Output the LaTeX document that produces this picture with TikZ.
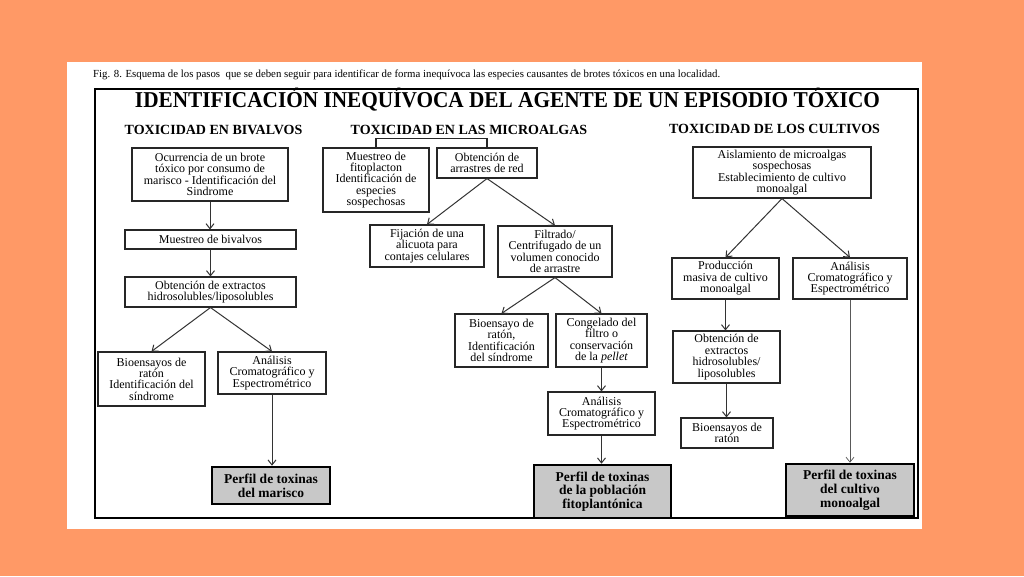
\documentclass[tikz,border=0pt]{standalone}
\usepackage{fontspec}
\setmainfont{Liberation Serif}
\usepackage{graphicx}
\usetikzlibrary{arrows.meta}
\definecolor{bgorange}{RGB}{255,153,102}
\definecolor{perfilgray}{RGB}{200,200,200}
\begin{document}
\begin{tikzpicture}[x=1pt,y=-1pt,
  box/.style={draw=black!85, line width=1.1pt, fill=white, align=center, inner sep=0pt,
    font=\fontsize{12}{11.4}\selectfont},
  perfil/.style={draw=black, line width=2.6pt, fill=perfilgray, align=center, inner sep=0pt,
    font=\bfseries\fontsize{13.5}{13.8}\selectfont},
  arr/.style={draw=black!80, line width=1pt, -{Straight Barb[length=5pt,width=8pt]}},
  thinarr/.style={draw=black!65, line width=0.7pt, -{Straight Barb[length=5pt,width=8pt]}},
  head/.style={font=\bfseries\fontsize{14}{14}\selectfont, inner sep=0pt}
]
\useasboundingbox (0,0) rectangle (1024,576);
\fill[bgorange] (0,0) rectangle (1024,576);
\fill[white] (67,62) rectangle (922,529);
\draw[line width=1.8pt] (95,89) rectangle (918,518);

% caption and title
\node[anchor=base west, inner sep=0pt] (cap) at (93,77.5)
  {\resizebox{627pt}{!}{\fontsize{9}{10}\selectfont Fig. 8. Esquema de los pasos\ \ que se deben seguir para identificar de forma inequívoca las especies causantes de brotes tóxicos en una localidad.}};
\node[anchor=base, inner sep=0pt] (title) at (507.5,107)
  {\resizebox{745pt}{15pt}{\fontsize{20}{22}\selectfont\bfseries\raisebox{0pt}[0.662em][0pt]{IDENTIFICACIÓN INEQUÍVOCA DEL AGENTE DE UN EPISODIO TÓXICO}}};

% headers
\node[head] (h1) at (213.5,130) {TOXICIDAD EN BIVALVOS};
\node[head] (h2) at (469,130) {TOXICIDAD EN LAS MICROALGAS};
\node[head] (h3) at (774.5,129) {TOXICIDAD DE LOS CULTIVOS};

% left column
\node[box, minimum width=156, minimum height=53] (B1) at (210,174.5)
  {Ocurrencia de un brote\\tóxico por consumo de\\marisco - Identificación del\\Sindrome};
\node[box, minimum width=171, minimum height=19] (B2) at (210.5,239.5) {Muestreo de bivalvos};
\node[box, minimum width=171, minimum height=30] (B3) at (210.5,292)
  {Obtención de extractos\\hidrosolubles/liposolubles};
\node[box, minimum width=107, minimum height=54] (B4) at (151.5,379)
  {Bioensayos de\\ratón\\Identificación del\\síndrome};
\node[box, minimum width=108, minimum height=42] (B5) at (272,373)
  {Análisis\\Cromatográfico y\\Espectrométrico};
\node[perfil, minimum width=118, minimum height=37] (P1) at (271,485.5)
  {Perfil de toxinas\\del marisco};

\draw[arr] (B1.south) -- (B1.south |- B2.north);
\draw[arr] (B2.south) -- (B2.south |- B3.north);
\draw[arr] (B3.south) -- (B4.north);
\draw[arr] (B3.south) -- (B5.north);
\draw[arr] (B5.south) -- (B5.south |- P1.north);

% middle column
\node[box, minimum width=106, minimum height=64] (M1) at (376,180)
  {Muestreo de\\fitoplacton\\Identificación de\\especies\\sospechosas};
\node[box, minimum width=100, minimum height=30] (M2) at (487,163)
  {Obtención de\\arrastres de red};
\node[box, minimum width=114, minimum height=42] (M3) at (427,246)
  {Fijación de una\\alicuota para\\contajes celulares};
\node[box, minimum width=114, minimum height=51] (M4) at (555,251.5)
  {Filtrado/\\Centrifugado de un\\volumen conocido\\de arrastre};
\node[box, minimum width=93, minimum height=53] (M5) at (501.5,340.5)
  {Bioensayo de\\ratón,\\Identificación\\del síndrome};
\node[box, minimum width=91, minimum height=53] (M6) at (601.5,340.5)
  {Congelado del\\filtro o\\conservación\\de la \textit{pellet}};
\node[box, minimum width=107, minimum height=43] (M7) at (601.5,413.5)
  {Análisis\\Cromatográfico y\\Espectrométrico};
\node[perfil, minimum width=137, minimum height=53] (P2) at (602.5,491.5)
  {Perfil de toxinas\\de la población\\fitoplantónica};

\draw[draw=black!85, line width=1.1pt] (M1.north) -- ++(0,-9) -| (M2.north);
\draw[arr] (M2.south) -- (M3.north);
\draw[arr] (M2.south) -- (M4.north);
\draw[arr] (M4.south) -- (M5.north);
\draw[arr] (M4.south) -- (M6.north);
\draw[arr] (M6.south) -- (M6.south |- M7.north);
\draw[arr] (M7.south) -- (M7.south |- P2.north);

% right column
\node[box, minimum width=178, minimum height=51] (R1) at (782,172.5)
  {Aislamiento de microalgas\\sospechosas\\Establecimiento de cultivo\\monoalgal};
\node[box, minimum width=107, minimum height=41] (R2) at (725.5,278.5)
  {Producción\\masiva de cultivo\\monoalgal};
\node[box, minimum width=114, minimum height=41] (R3) at (850,278.5)
  {Análisis\\Cromatográfico y\\Espectrométrico};
\node[box, minimum width=107, minimum height=52] (R4) at (726.5,357)
  {Obtención de\\extractos\\hidrosolubles/\\liposolubles};
\node[box, minimum width=92, minimum height=30] (R5) at (727,433)
  {Bioensayos de\\ratón};
\node[perfil, minimum width=128, minimum height=52] (P3) at (850,490)
  {Perfil de toxinas\\del cultivo\\monoalgal};

\draw[arr] (R1.south) -- (R2.north);
\draw[arr] (R1.south) -- (R3.north);
\draw[arr] (R2.south) -- (R2.south |- R4.north);
\draw[arr] (R4.south) -- (R4.south |- R5.north);
\draw[thinarr] (R3.south) -- (R3.south |- P3.north);
\end{tikzpicture}
\end{document}
